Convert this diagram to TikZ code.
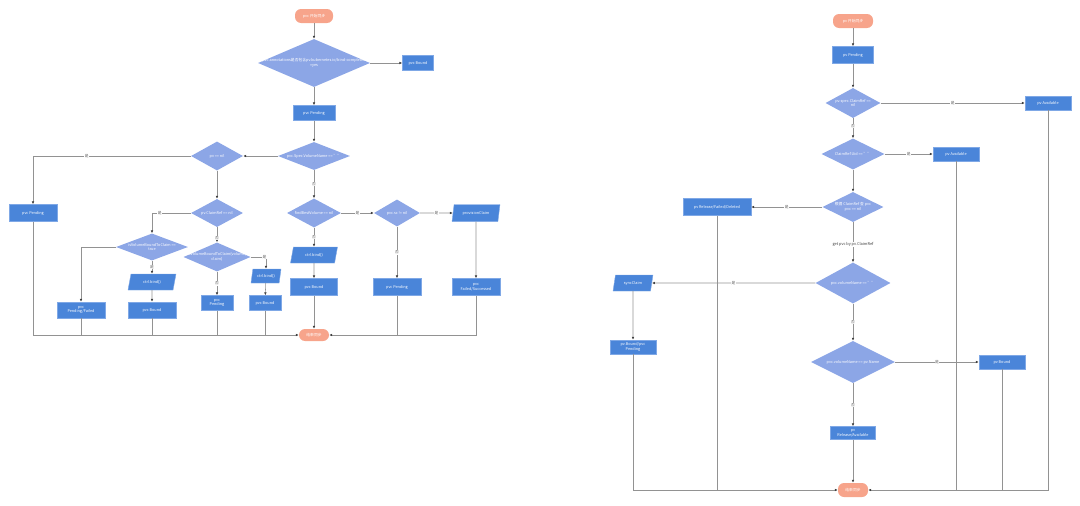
\documentclass[tikz,border=0pt]{standalone}
\usepackage{fontspec}
\setmainfont{Noto Sans CJK SC}
\usetikzlibrary{shapes.geometric,arrows.meta}
\definecolor{boxblue}{HTML}{4A85D9}
\definecolor{boxedge}{HTML}{7FA8E6}
\definecolor{diablue}{HTML}{8CA6E6}
\definecolor{pillc}{HTML}{F7A48B}
\definecolor{lnc}{HTML}{929292}
\definecolor{tipc}{HTML}{404040}
\tikzset{
  tx/.style={text=white, font=\fontsize{3.8}{4.6}\selectfont, align=center},
  bx/.style={tx, rectangle, draw=boxedge, fill=boxblue, inner sep=0pt, line width=0.4pt},
  dia/.style={diamond, fill=diablue, draw=none, inner sep=0pt},
  dt/.style={tx},
  pill/.style={tx, rectangle, rounded corners=6pt, fill=pillc, draw=none, inner sep=0pt},
  para/.style={tx, trapezium, trapezium left angle=72, trapezium right angle=108, trapezium stretches=true, fill=boxblue, draw=boxedge, inner sep=0pt, line width=0.4pt},
  ln/.style={draw=lnc, line width=0.55pt},
  ar/.style={ln, -{Latex[length=3pt,width=2.6pt,color=tipc]}},
  lab/.style={fill=white, inner sep=0.4pt, text=black!60, font=\fontsize{3.8}{4.2}\selectfont},
  glab/.style={fill=white, inner sep=0.6pt, text=black!75, font=\fontsize{3.9}{4.5}\selectfont}
}
\begin{document}
\begin{tikzpicture}[x=1pt,y=-1pt]
\useasboundingbox (0,0) rectangle (1080,506);
% ================= LEFT =================
\node[pill, minimum width=38pt, minimum height=14pt] (s1) at (314,16) {pvc 开始同步};
\node[dia, minimum width=112pt, minimum height=48pt] (d1) at (314,63) {};
\node[dt] (d1t) at (314,63) {pvc.annotations是否包含pv.kubernetes.io/bind-completed\\=yes};
\node[bx, minimum width=31pt, minimum height=15pt] (b1) at (418,63) {pvc Bound};
\node[bx, minimum width=42pt, minimum height=15pt] (p1) at (314,113) {pvc Pending};
\node[dia, minimum width=72pt, minimum height=28pt] (d2) at (314,156) {};
\node[dt] (d2t) at (314,156) {pvc.Spec.VolumeName == ""};
\node[dia, minimum width=52pt, minimum height=29pt] (d3) at (217,156) {};
\node[dt] (d3t) at (217,156) {pv == nil};
\node[bx, minimum width=48pt, minimum height=17pt] (b2) at (33,213) {pvc Pending};
\node[dia, minimum width=52pt, minimum height=28pt] (d4) at (217,213) {};
\node[dt] (d4t) at (217,213) {pv.ClaimRef == nil};
\node[dia, minimum width=72pt, minimum height=27pt] (d5) at (152,247) {};
\node[dt] (d5t) at (152,247) {isVolumeBoundToClaim ==\\true};
\node[bx, minimum width=48pt, minimum height=16pt] (b3) at (81,310) {pvc\\Pending/Failed};
\node[para, minimum width=48pt, minimum height=16pt] (q1) at (152,282) {ctrl.bind()};
\node[bx, minimum width=48pt, minimum height=16pt] (b4) at (152,310) {pvc Bound};
\node[dia, minimum width=67pt, minimum height=29pt] (d6) at (217,257) {};
\node[dt] (d6t) at (217,257) {isVolumeBoundToClaim(volume,\\claim)};
\node[bx, minimum width=32pt, minimum height=15pt] (b5) at (217,303) {pvc\\Pending};
\node[para, minimum width=30pt, minimum height=14pt] (q2) at (266,276) {ctrl.bind()};
\node[bx, minimum width=32pt, minimum height=15pt] (b6) at (265,303) {pvc Bound};
\node[dia, minimum width=54pt, minimum height=29pt] (d7) at (314,213) {};
\node[dt] (d7t) at (314,213) {findBestVolume == nil};
\node[dia, minimum width=46pt, minimum height=27pt] (d8) at (397,213) {};
\node[dt] (d8t) at (397,213) {pvc.sc != nil};
\node[para, minimum width=48pt, minimum height=17pt] (q4) at (476,213) {provisionClaim};
\node[para, minimum width=47pt, minimum height=16pt] (q3) at (314,255) {ctrl.bind()};
\node[bx, minimum width=47pt, minimum height=17pt] (b7) at (314,287) {pvc Bound};
\node[bx, minimum width=48pt, minimum height=17pt] (b8) at (397,287) {pvc Pending};
\node[bx, minimum width=48pt, minimum height=17pt] (b9) at (476,287) {pvc\\Failed/Successed};
\node[pill, minimum width=30pt, minimum height=12pt] (e1) at (314,335) {结束同步};

\draw[ar] (s1) -- (d1);
\draw[ar] (d1) -- (b1);
\draw[ar] (d1) -- (p1);
\draw[ar] (p1) -- (d2);
\draw[ar] (d2) -- (d3);
\draw[ar] (d3.west) -| node[lab,pos=0.33]{是} (b2);
\draw[ar] (d3) -- (d4);
\draw[ar] (d4.west) -| node[lab,pos=0.4]{是} (d5);
\draw[ar] (d5.west) -| (b3);
\draw[ar] (d5) -- node[lab]{是} (q1);
\draw[ar] (q1) -- (b4);
\draw[ar] (d4) -- node[lab,pos=0.7]{否} (d6);
\draw[ar] (d6) -- node[lab]{否} (b5);
\draw[ar] (d6.east) -| node[lab,pos=0.45]{是} (q2);
\draw[ar] (q2) -- (b6);
\draw[ar] (d2) -- node[lab]{否} (d7);
\draw[ar] (d7) -- node[lab]{否} (q3);
\draw[ar] (q3) -- (b7);
\draw[ar] (b7) -- (e1);
\draw[ar] (d7) -- node[lab]{是} (d8);
\draw[ar] (d8) -- node[lab]{是} (q4);
\draw[ar] (d8) -- node[lab]{否} (b8);
\draw[ar] (q4) -- (b9);
\draw[ar] (b2) |- (e1.west);
\draw[ln] (b3.south) -- (b3.south |- e1.west);
\draw[ln] (b4.south) -- (b4.south |- e1.west);
\draw[ln] (b5.south) -- (b5.south |- e1.west);
\draw[ln] (b6.south) -- (b6.south |- e1.west);
\draw[ar] (b9) |- (e1.east);
\draw[ln] (b8.south) -- (b8.south |- e1.east);
% ================= RIGHT =================
\node[pill, minimum width=40pt, minimum height=14pt] (s2) at (853,21) {pv 开始同步};
\node[bx, minimum width=41pt, minimum height=17pt] (r1) at (853,55) {pv Pending};
\node[dia, minimum width=55pt, minimum height=30pt] (g1) at (853,103) {};
\node[dt] (g1t) at (853,103) {pv.spec.ClaimRef ==\\nil};
\node[bx, minimum width=46pt, minimum height=14pt] (ra1) at (1048,103) {pv Available};
\node[dia, minimum width=63pt, minimum height=31pt] (g2) at (853,154) {};
\node[dt] (g2t) at (853,154) {ClaimRef.Uid == ""};
\node[bx, minimum width=46pt, minimum height=14pt] (ra2) at (956,154) {pv Available};
\node[dia, minimum width=61pt, minimum height=30pt] (g3) at (853,207) {};
\node[dt] (g3t) at (853,207) {根据 ClaimRef 查 pvc\\pvc == nil};
\node[bx, minimum width=68pt, minimum height=17pt] (rr1) at (717,207) {pv Release/Failed/Deleted};
\node[dia, minimum width=75pt, minimum height=41pt] (g4) at (853,283) {};
\node[dt] (g4t) at (853,283) {pvc.volumeName == ""};
\node[para, minimum width=40pt, minimum height=16pt] (sc) at (633,283) {syncClaim};
\node[bx, minimum width=46pt, minimum height=14pt] (rb) at (633,347) {pv.Bound/pvc\\Pending};
\node[dia, minimum width=84pt, minimum height=42pt] (g5) at (853,362) {};
\node[dt] (g5t) at (853,362) {pvc.volumeName == pv.Name};
\node[bx, minimum width=46pt, minimum height=14pt] (rb2) at (1002,362) {pv Bound};
\node[bx, minimum width=45pt, minimum height=13pt] (rra) at (853,433) {pv\\Release/Available};
\node[pill, minimum width=30pt, minimum height=14pt] (e2) at (853,490) {结束同步};

\draw[ar] (s2) -- (r1);
\draw[ar] (r1) -- (g1);
\draw[ar] (g1) -- node[lab]{是} (ra1);
\draw[ar] (g1) -- node[lab,pos=0.4]{否} (g2);
\draw[ar] (g2) -- node[lab]{是} (ra2);
\draw[ar] (g2) -- (g3);
\draw[ar] (g3) -- node[lab]{是} (rr1);
\draw[ar] (g3) -- node[glab,pos=0.55]{get pvc by pv.ClaimRef} (g4);
\draw[ar] (g4) -- node[lab]{是} (sc);
\draw[ar] (sc) -- (rb);
\draw[ar] (g4) -- node[lab]{否} (g5);
\draw[ar] (g5) -- node[lab]{是} (rb2);
\draw[ar] (g5) -- node[lab]{否} (rra);
\draw[ar] (rra) -- (e2);
\draw[ar] (rb) |- (e2.west);
\draw[ln] (rr1.south) -- (rr1.south |- e2.west);
\draw[ar] (ra1) |- (e2.east);
\draw[ln] (ra2.south) -- (ra2.south |- e2.east);
\draw[ln] (rb2.south) -- (rb2.south |- e2.east);
\end{tikzpicture}
\end{document}
